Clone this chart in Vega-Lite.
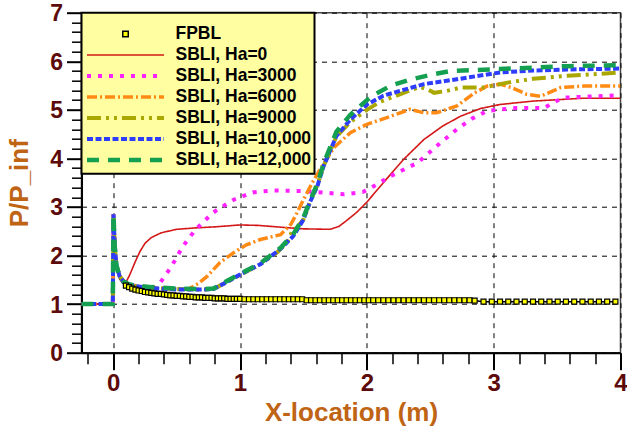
{
"$schema":"https://vega.github.io/schema/vega-lite/v6.json",
"autosize":{"type":"none"},
"width":539,"height":340,
"padding":{"left":81.5,"top":12.7,"right":6.5,"bottom":81.5},
"background":"white",
"config":{"view":{"stroke":"#444","strokeWidth":1.5},"font":"Liberation Sans"},
"datasets":{
"lines":[
{"s":"FPBL","x":-0.25,"y":1},{"s":"FPBL","x":-0.003,"y":1},{"s":"FPBL","x":0.002,"y":2.8},{"s":"FPBL","x":0.012,"y":2.15},{"s":"FPBL","x":0.025,"y":1.75},{"s":"FPBL","x":0.05,"y":1.52},{"s":"FPBL","x":0.075,"y":1.43},
{"s":"FPBL","x":0.1,"y":1.38},{"s":"FPBL","x":0.125,"y":1.35},{"s":"FPBL","x":0.15,"y":1.32},{"s":"FPBL","x":0.175,"y":1.3},{"s":"FPBL","x":0.2,"y":1.28},{"s":"FPBL","x":0.225,"y":1.27},{"s":"FPBL","x":0.25,"y":1.25},{"s":"FPBL","x":0.275,"y":1.24},{"s":"FPBL","x":0.3,"y":1.23},{"s":"FPBL","x":0.325,"y":1.22},{"s":"FPBL","x":0.35,"y":1.21},{"s":"FPBL","x":0.375,"y":1.21},{"s":"FPBL","x":0.4,"y":1.2},{"s":"FPBL","x":0.425,"y":1.19},{"s":"FPBL","x":0.45,"y":1.18},{"s":"FPBL","x":0.475,"y":1.18},{"s":"FPBL","x":0.5,"y":1.17},{"s":"FPBL","x":0.525,"y":1.17},{"s":"FPBL","x":0.55,"y":1.16},{"s":"FPBL","x":0.575,"y":1.16},{"s":"FPBL","x":0.6,"y":1.15},{"s":"FPBL","x":0.625,"y":1.15},{"s":"FPBL","x":0.65,"y":1.14},{"s":"FPBL","x":0.675,"y":1.14},{"s":"FPBL","x":0.7,"y":1.14},{"s":"FPBL","x":0.725,"y":1.13},{"s":"FPBL","x":0.75,"y":1.13},{"s":"FPBL","x":0.775,"y":1.13},{"s":"FPBL","x":0.8,"y":1.12},{"s":"FPBL","x":0.825,"y":1.12},{"s":"FPBL","x":0.85,"y":1.12},{"s":"FPBL","x":0.875,"y":1.12},{"s":"FPBL","x":0.9,"y":1.11},{"s":"FPBL","x":0.925,"y":1.11},{"s":"FPBL","x":0.95,"y":1.11},{"s":"FPBL","x":0.975,"y":1.11},{"s":"FPBL","x":1.0,"y":1.11},
{"s":"FPBL","x":1.035,"y":1.1},{"s":"FPBL","x":1.07,"y":1.1},{"s":"FPBL","x":1.105,"y":1.1},{"s":"FPBL","x":1.14,"y":1.1},{"s":"FPBL","x":1.175,"y":1.1},{"s":"FPBL","x":1.21,"y":1.1},{"s":"FPBL","x":1.245,"y":1.1},{"s":"FPBL","x":1.28,"y":1.1},{"s":"FPBL","x":1.315,"y":1.1},{"s":"FPBL","x":1.35,"y":1.1},{"s":"FPBL","x":1.385,"y":1.1},{"s":"FPBL","x":1.42,"y":1.1},{"s":"FPBL","x":1.455,"y":1.1},{"s":"FPBL","x":1.49,"y":1.1},
{"s":"FPBL","x":1.525,"y":1.08},{"s":"FPBL","x":1.56,"y":1.08},{"s":"FPBL","x":1.595,"y":1.08},{"s":"FPBL","x":1.63,"y":1.08},{"s":"FPBL","x":1.665,"y":1.08},{"s":"FPBL","x":1.7,"y":1.08},{"s":"FPBL","x":1.735,"y":1.08},{"s":"FPBL","x":1.77,"y":1.08},{"s":"FPBL","x":1.805,"y":1.08},{"s":"FPBL","x":1.84,"y":1.08},{"s":"FPBL","x":1.875,"y":1.08},{"s":"FPBL","x":1.91,"y":1.08},{"s":"FPBL","x":1.945,"y":1.08},{"s":"FPBL","x":1.98,"y":1.08},{"s":"FPBL","x":2.015,"y":1.08},{"s":"FPBL","x":2.05,"y":1.08},{"s":"FPBL","x":2.09,"y":1.08},{"s":"FPBL","x":2.13,"y":1.08},{"s":"FPBL","x":2.17,"y":1.08},{"s":"FPBL","x":2.21,"y":1.08},{"s":"FPBL","x":2.25,"y":1.08},{"s":"FPBL","x":2.29,"y":1.08},{"s":"FPBL","x":2.33,"y":1.08},{"s":"FPBL","x":2.37,"y":1.08},{"s":"FPBL","x":2.41,"y":1.08},{"s":"FPBL","x":2.45,"y":1.08},{"s":"FPBL","x":2.49,"y":1.08},{"s":"FPBL","x":2.53,"y":1.08},{"s":"FPBL","x":2.57,"y":1.08},{"s":"FPBL","x":2.61,"y":1.08},{"s":"FPBL","x":2.65,"y":1.08},{"s":"FPBL","x":2.69,"y":1.08},{"s":"FPBL","x":2.73,"y":1.08},{"s":"FPBL","x":2.77,"y":1.08},{"s":"FPBL","x":2.81,"y":1.08},{"s":"FPBL","x":2.85,"y":1.07},
{"s":"FPBL","x":2.92,"y":1.05},{"s":"FPBL","x":2.985,"y":1.05},{"s":"FPBL","x":3.05,"y":1.05},{"s":"FPBL","x":3.115,"y":1.05},{"s":"FPBL","x":3.18,"y":1.05},{"s":"FPBL","x":3.245,"y":1.05},{"s":"FPBL","x":3.31,"y":1.05},{"s":"FPBL","x":3.375,"y":1.05},{"s":"FPBL","x":3.44,"y":1.05},{"s":"FPBL","x":3.505,"y":1.05},{"s":"FPBL","x":3.57,"y":1.05},{"s":"FPBL","x":3.635,"y":1.05},{"s":"FPBL","x":3.7,"y":1.05},{"s":"FPBL","x":3.765,"y":1.05},{"s":"FPBL","x":3.83,"y":1.05},{"s":"FPBL","x":3.895,"y":1.05},{"s":"FPBL","x":3.96,"y":1.05},

{"s":"SBLI, Ha=0","x":-0.25,"y":1},{"s":"SBLI, Ha=0","x":-0.003,"y":1},{"s":"SBLI, Ha=0","x":0.002,"y":2.85},{"s":"SBLI, Ha=0","x":0.012,"y":2.2},{"s":"SBLI, Ha=0","x":0.025,"y":1.8},{"s":"SBLI, Ha=0","x":0.05,"y":1.58},{"s":"SBLI, Ha=0","x":0.08,"y":1.48},{"s":"SBLI, Ha=0","x":0.1,"y":1.45},{"s":"SBLI, Ha=0","x":0.13,"y":1.6},{"s":"SBLI, Ha=0","x":0.17,"y":1.85},{"s":"SBLI, Ha=0","x":0.21,"y":2.08},{"s":"SBLI, Ha=0","x":0.25,"y":2.25},{"s":"SBLI, Ha=0","x":0.3,"y":2.37},{"s":"SBLI, Ha=0","x":0.38,"y":2.47},{"s":"SBLI, Ha=0","x":0.5,"y":2.54},{"s":"SBLI, Ha=0","x":0.65,"y":2.57},{"s":"SBLI, Ha=0","x":0.8,"y":2.59},{"s":"SBLI, Ha=0","x":1.0,"y":2.63},{"s":"SBLI, Ha=0","x":1.15,"y":2.62},{"s":"SBLI, Ha=0","x":1.34,"y":2.58},{"s":"SBLI, Ha=0","x":1.5,"y":2.55},{"s":"SBLI, Ha=0","x":1.71,"y":2.54},{"s":"SBLI, Ha=0","x":1.78,"y":2.6},{"s":"SBLI, Ha=0","x":1.84,"y":2.72},{"s":"SBLI, Ha=0","x":1.92,"y":2.89},{"s":"SBLI, Ha=0","x":2.0,"y":3.1},{"s":"SBLI, Ha=0","x":2.13,"y":3.5},{"s":"SBLI, Ha=0","x":2.29,"y":3.98},{"s":"SBLI, Ha=0","x":2.45,"y":4.39},{"s":"SBLI, Ha=0","x":2.6,"y":4.67},{"s":"SBLI, Ha=0","x":2.74,"y":4.87},{"s":"SBLI, Ha=0","x":2.9,"y":5.03},{"s":"SBLI, Ha=0","x":3.05,"y":5.11},{"s":"SBLI, Ha=0","x":3.31,"y":5.18},{"s":"SBLI, Ha=0","x":3.71,"y":5.24},{"s":"SBLI, Ha=0","x":4.0,"y":5.24},

{"s":"SBLI, Ha=3000","x":-0.25,"y":1},{"s":"SBLI, Ha=3000","x":-0.003,"y":1},{"s":"SBLI, Ha=3000","x":0.002,"y":2.85},{"s":"SBLI, Ha=3000","x":0.012,"y":2.2},{"s":"SBLI, Ha=3000","x":0.025,"y":1.8},{"s":"SBLI, Ha=3000","x":0.05,"y":1.58},{"s":"SBLI, Ha=3000","x":0.08,"y":1.47},{"s":"SBLI, Ha=3000","x":0.12,"y":1.41},{"s":"SBLI, Ha=3000","x":0.18,"y":1.37},{"s":"SBLI, Ha=3000","x":0.26,"y":1.33},{"s":"SBLI, Ha=3000","x":0.32,"y":1.33},{"s":"SBLI, Ha=3000","x":0.37,"y":1.44},{"s":"SBLI, Ha=3000","x":0.46,"y":1.78},{"s":"SBLI, Ha=3000","x":0.55,"y":2.19},{"s":"SBLI, Ha=3000","x":0.65,"y":2.54},{"s":"SBLI, Ha=3000","x":0.79,"y":2.89},{"s":"SBLI, Ha=3000","x":0.95,"y":3.15},{"s":"SBLI, Ha=3000","x":1.1,"y":3.3},{"s":"SBLI, Ha=3000","x":1.26,"y":3.34},{"s":"SBLI, Ha=3000","x":1.48,"y":3.33},{"s":"SBLI, Ha=3000","x":1.69,"y":3.29},{"s":"SBLI, Ha=3000","x":1.82,"y":3.26},{"s":"SBLI, Ha=3000","x":1.97,"y":3.31},{"s":"SBLI, Ha=3000","x":2.07,"y":3.45},{"s":"SBLI, Ha=3000","x":2.19,"y":3.64},{"s":"SBLI, Ha=3000","x":2.4,"y":3.91},{"s":"SBLI, Ha=3000","x":2.58,"y":4.32},{"s":"SBLI, Ha=3000","x":2.71,"y":4.6},{"s":"SBLI, Ha=3000","x":2.83,"y":4.82},{"s":"SBLI, Ha=3000","x":2.95,"y":4.98},{"s":"SBLI, Ha=3000","x":3.18,"y":5.04},{"s":"SBLI, Ha=3000","x":3.4,"y":5.04},{"s":"SBLI, Ha=3000","x":3.47,"y":5.15},{"s":"SBLI, Ha=3000","x":3.55,"y":5.25},{"s":"SBLI, Ha=3000","x":3.71,"y":5.27},{"s":"SBLI, Ha=3000","x":4.0,"y":5.3},

{"s":"SBLI, Ha=6000","x":-0.25,"y":1},{"s":"SBLI, Ha=6000","x":-0.003,"y":1},{"s":"SBLI, Ha=6000","x":0.002,"y":2.85},{"s":"SBLI, Ha=6000","x":0.012,"y":2.2},{"s":"SBLI, Ha=6000","x":0.025,"y":1.8},{"s":"SBLI, Ha=6000","x":0.05,"y":1.58},{"s":"SBLI, Ha=6000","x":0.08,"y":1.47},{"s":"SBLI, Ha=6000","x":0.12,"y":1.41},{"s":"SBLI, Ha=6000","x":0.18,"y":1.37},{"s":"SBLI, Ha=6000","x":0.3,"y":1.33},{"s":"SBLI, Ha=6000","x":0.5,"y":1.31},{"s":"SBLI, Ha=6000","x":0.6,"y":1.32},{"s":"SBLI, Ha=6000","x":0.67,"y":1.42},{"s":"SBLI, Ha=6000","x":0.74,"y":1.57},{"s":"SBLI, Ha=6000","x":0.84,"y":1.85},{"s":"SBLI, Ha=6000","x":0.95,"y":2.06},{"s":"SBLI, Ha=6000","x":1.05,"y":2.22},{"s":"SBLI, Ha=6000","x":1.16,"y":2.33},{"s":"SBLI, Ha=6000","x":1.32,"y":2.43},{"s":"SBLI, Ha=6000","x":1.4,"y":2.64},{"s":"SBLI, Ha=6000","x":1.45,"y":2.88},{"s":"SBLI, Ha=6000","x":1.5,"y":3.15},{"s":"SBLI, Ha=6000","x":1.57,"y":3.5},{"s":"SBLI, Ha=6000","x":1.63,"y":3.77},{"s":"SBLI, Ha=6000","x":1.74,"y":4.22},{"s":"SBLI, Ha=6000","x":1.87,"y":4.53},{"s":"SBLI, Ha=6000","x":2.0,"y":4.7},{"s":"SBLI, Ha=6000","x":2.19,"y":4.87},{"s":"SBLI, Ha=6000","x":2.34,"y":5.01},{"s":"SBLI, Ha=6000","x":2.45,"y":4.94},{"s":"SBLI, Ha=6000","x":2.55,"y":4.94},{"s":"SBLI, Ha=6000","x":2.71,"y":5.08},{"s":"SBLI, Ha=6000","x":2.85,"y":5.35},{"s":"SBLI, Ha=6000","x":2.95,"y":5.49},{"s":"SBLI, Ha=6000","x":3.05,"y":5.53},{"s":"SBLI, Ha=6000","x":3.15,"y":5.45},{"s":"SBLI, Ha=6000","x":3.26,"y":5.32},{"s":"SBLI, Ha=6000","x":3.37,"y":5.28},{"s":"SBLI, Ha=6000","x":3.53,"y":5.46},{"s":"SBLI, Ha=6000","x":3.71,"y":5.49},{"s":"SBLI, Ha=6000","x":4.0,"y":5.49},

{"s":"SBLI, Ha=9000","x":-0.25,"y":1},{"s":"SBLI, Ha=9000","x":-0.003,"y":1},{"s":"SBLI, Ha=9000","x":0.002,"y":2.85},{"s":"SBLI, Ha=9000","x":0.012,"y":2.2},{"s":"SBLI, Ha=9000","x":0.025,"y":1.8},{"s":"SBLI, Ha=9000","x":0.05,"y":1.58},{"s":"SBLI, Ha=9000","x":0.08,"y":1.47},{"s":"SBLI, Ha=9000","x":0.12,"y":1.41},{"s":"SBLI, Ha=9000","x":0.18,"y":1.37},{"s":"SBLI, Ha=9000","x":0.3,"y":1.34},{"s":"SBLI, Ha=9000","x":0.5,"y":1.31},{"s":"SBLI, Ha=9000","x":0.7,"y":1.3},{"s":"SBLI, Ha=9000","x":0.79,"y":1.31},{"s":"SBLI, Ha=9000","x":0.9,"y":1.46},{"s":"SBLI, Ha=9000","x":1.0,"y":1.6},{"s":"SBLI, Ha=9000","x":1.16,"y":1.82},{"s":"SBLI, Ha=9000","x":1.3,"y":2.08},{"s":"SBLI, Ha=9000","x":1.38,"y":2.32},{"s":"SBLI, Ha=9000","x":1.41,"y":2.5},{"s":"SBLI, Ha=9000","x":1.45,"y":2.58},{"s":"SBLI, Ha=9000","x":1.5,"y":2.74},{"s":"SBLI, Ha=9000","x":1.55,"y":3.09},{"s":"SBLI, Ha=9000","x":1.61,"y":3.45},{"s":"SBLI, Ha=9000","x":1.66,"y":3.85},{"s":"SBLI, Ha=9000","x":1.76,"y":4.45},{"s":"SBLI, Ha=9000","x":1.87,"y":4.75},{"s":"SBLI, Ha=9000","x":2.0,"y":5.0},{"s":"SBLI, Ha=9000","x":2.1,"y":5.16},{"s":"SBLI, Ha=9000","x":2.19,"y":5.25},{"s":"SBLI, Ha=9000","x":2.32,"y":5.38},{"s":"SBLI, Ha=9000","x":2.42,"y":5.47},{"s":"SBLI, Ha=9000","x":2.48,"y":5.42},{"s":"SBLI, Ha=9000","x":2.53,"y":5.35},{"s":"SBLI, Ha=9000","x":2.63,"y":5.39},{"s":"SBLI, Ha=9000","x":2.74,"y":5.46},{"s":"SBLI, Ha=9000","x":2.92,"y":5.46},{"s":"SBLI, Ha=9000","x":3.11,"y":5.56},{"s":"SBLI, Ha=9000","x":3.31,"y":5.64},{"s":"SBLI, Ha=9000","x":3.58,"y":5.7},{"s":"SBLI, Ha=9000","x":4.0,"y":5.77},

{"s":"SBLI, Ha=10,000","x":-0.25,"y":1},{"s":"SBLI, Ha=10,000","x":-0.003,"y":1},{"s":"SBLI, Ha=10,000","x":0.002,"y":2.85},{"s":"SBLI, Ha=10,000","x":0.012,"y":2.2},{"s":"SBLI, Ha=10,000","x":0.025,"y":1.8},{"s":"SBLI, Ha=10,000","x":0.05,"y":1.58},{"s":"SBLI, Ha=10,000","x":0.08,"y":1.47},{"s":"SBLI, Ha=10,000","x":0.12,"y":1.41},{"s":"SBLI, Ha=10,000","x":0.18,"y":1.37},{"s":"SBLI, Ha=10,000","x":0.3,"y":1.33},{"s":"SBLI, Ha=10,000","x":0.5,"y":1.3},{"s":"SBLI, Ha=10,000","x":0.7,"y":1.3},{"s":"SBLI, Ha=10,000","x":0.79,"y":1.31},{"s":"SBLI, Ha=10,000","x":0.9,"y":1.46},{"s":"SBLI, Ha=10,000","x":1.0,"y":1.61},{"s":"SBLI, Ha=10,000","x":1.16,"y":1.82},{"s":"SBLI, Ha=10,000","x":1.32,"y":2.14},{"s":"SBLI, Ha=10,000","x":1.42,"y":2.4},{"s":"SBLI, Ha=10,000","x":1.5,"y":2.74},{"s":"SBLI, Ha=10,000","x":1.55,"y":3.09},{"s":"SBLI, Ha=10,000","x":1.61,"y":3.43},{"s":"SBLI, Ha=10,000","x":1.66,"y":3.85},{"s":"SBLI, Ha=10,000","x":1.76,"y":4.46},{"s":"SBLI, Ha=10,000","x":1.87,"y":4.8},{"s":"SBLI, Ha=10,000","x":2.0,"y":5.11},{"s":"SBLI, Ha=10,000","x":2.13,"y":5.29},{"s":"SBLI, Ha=10,000","x":2.26,"y":5.39},{"s":"SBLI, Ha=10,000","x":2.45,"y":5.53},{"s":"SBLI, Ha=10,000","x":2.71,"y":5.63},{"s":"SBLI, Ha=10,000","x":3.05,"y":5.77},{"s":"SBLI, Ha=10,000","x":3.31,"y":5.81},{"s":"SBLI, Ha=10,000","x":3.58,"y":5.83},{"s":"SBLI, Ha=10,000","x":4.0,"y":5.85},

{"s":"SBLI, Ha=12,000","x":-0.25,"y":1},{"s":"SBLI, Ha=12,000","x":-0.003,"y":1},{"s":"SBLI, Ha=12,000","x":0.002,"y":2.85},{"s":"SBLI, Ha=12,000","x":0.012,"y":2.2},{"s":"SBLI, Ha=12,000","x":0.025,"y":1.8},{"s":"SBLI, Ha=12,000","x":0.05,"y":1.58},{"s":"SBLI, Ha=12,000","x":0.08,"y":1.47},{"s":"SBLI, Ha=12,000","x":0.12,"y":1.41},{"s":"SBLI, Ha=12,000","x":0.18,"y":1.38},{"s":"SBLI, Ha=12,000","x":0.3,"y":1.35},{"s":"SBLI, Ha=12,000","x":0.5,"y":1.32},{"s":"SBLI, Ha=12,000","x":0.7,"y":1.31},{"s":"SBLI, Ha=12,000","x":0.79,"y":1.32},{"s":"SBLI, Ha=12,000","x":0.9,"y":1.48},{"s":"SBLI, Ha=12,000","x":1.0,"y":1.62},{"s":"SBLI, Ha=12,000","x":1.16,"y":1.84},{"s":"SBLI, Ha=12,000","x":1.32,"y":2.16},{"s":"SBLI, Ha=12,000","x":1.42,"y":2.44},{"s":"SBLI, Ha=12,000","x":1.5,"y":2.78},{"s":"SBLI, Ha=12,000","x":1.55,"y":3.12},{"s":"SBLI, Ha=12,000","x":1.61,"y":3.48},{"s":"SBLI, Ha=12,000","x":1.66,"y":3.9},{"s":"SBLI, Ha=12,000","x":1.76,"y":4.55},{"s":"SBLI, Ha=12,000","x":1.87,"y":4.9},{"s":"SBLI, Ha=12,000","x":2.0,"y":5.2},{"s":"SBLI, Ha=12,000","x":2.05,"y":5.3},{"s":"SBLI, Ha=12,000","x":2.19,"y":5.5},{"s":"SBLI, Ha=12,000","x":2.34,"y":5.62},{"s":"SBLI, Ha=12,000","x":2.5,"y":5.72},{"s":"SBLI, Ha=12,000","x":2.66,"y":5.8},{"s":"SBLI, Ha=12,000","x":3.05,"y":5.84},{"s":"SBLI, Ha=12,000","x":3.31,"y":5.87},{"s":"SBLI, Ha=12,000","x":3.58,"y":5.9},{"s":"SBLI, Ha=12,000","x":4.0,"y":5.92}
]},
"data":{"name":"lines"},
"encoding":{
 "x":{"field":"x","type":"quantitative","scale":{"domain":[-0.25,4],"nice":false,"zero":false},
  "axis":{"values":[-0.2,0,0.2,0.4,0.6,0.8,1,1.2,1.4,1.6,1.8,2,2.2,2.4,2.6,2.8,3,3.2,3.4,3.6,3.8,4],
   "title":"X-location (m)","titleFont":"Liberation Sans","titleFontSize":26,"titleFontWeight":"bold","titleColor":"#bf6414","titlePadding":4,
   "labelFont":"Liberation Sans","labelFontSize":24,"labelFontWeight":"bold","labelColor":"#5c0a0a","labelPadding":2,
   "labelExpr":"abs(datum.value-round(datum.value))<0.001 ? format(datum.value,'d') : ''",
   "labelOverlap":false,"labelFlush":false,
   "domainColor":"#000","domainWidth":2,"tickColor":"#000",
   "tickSize":{"condition":{"test":"abs(datum.value-round(datum.value))<0.001","value":17},"value":11},
   "tickWidth":{"condition":{"test":"abs(datum.value-round(datum.value))<0.001","value":2},"value":1.5},
   "grid":true,"gridColor":"#000","gridDash":[5,5],"gridWidth":1,
   "gridOpacity":{"condition":{"test":"abs(datum.value-round(datum.value))<0.001","value":1},"value":0}}},
 "y":{"field":"y","type":"quantitative","scale":{"domain":[0,7],"nice":false},
  "axis":{"values":[0,0.2,0.4,0.6,0.8,1,1.2,1.4,1.6,1.8,2,2.2,2.4,2.6,2.8,3,3.2,3.4,3.6,3.8,4,4.2,4.4,4.6,4.8,5,5.2,5.4,5.6,5.8,6,6.2,6.4,6.6,6.8,7],
   "title":"P/P_inf","titleFont":"Liberation Sans","titleFontSize":26,"titleFontWeight":"bold","titleColor":"#bf6414","titlePadding":17,
   "labelFont":"Liberation Sans","labelFontSize":23,"labelFontWeight":"bold","labelColor":"#5c0a0a","labelPadding":4,"labelOffset":1,
   "labelExpr":"abs(datum.value-round(datum.value))<0.001 ? format(datum.value,'d') : ''",
   "labelOverlap":false,"labelFlush":false,
   "domainColor":"#000","domainWidth":2,"tickColor":"#000",
   "tickSize":{"condition":{"test":"abs(datum.value-round(datum.value))<0.001","value":15},"value":10},
   "tickWidth":{"condition":{"test":"abs(datum.value-round(datum.value))<0.001","value":2},"value":1.5},
   "grid":true,"gridColor":"#000","gridDash":[5,5],"gridWidth":1,
   "gridOpacity":{"condition":{"test":"abs(datum.value-round(datum.value))<0.001","value":1},"value":0}}}
},
"layer":[
 {"mark":{"type":"line","clip":true},
  "encoding":{
   "color":{"field":"s","type":"nominal",
     "scale":{"domain":["FPBL","SBLI, Ha=0","SBLI, Ha=3000","SBLI, Ha=6000","SBLI, Ha=9000","SBLI, Ha=10,000","SBLI, Ha=12,000"],
              "range":["#000000","#d41818","#ff22ff","#ff8a14","#aaa800","#2e3cff","#14a050"]},
     "legend":{"orient":"top-left","offset":0,"title":" ","titleFontSize":7,"titlePadding":1,"fillColor":"#ffffa2","strokeColor":"#000","padding":3,
       "labelFont":"Liberation Sans","labelFontSize":17.5,"labelFontWeight":"bold","labelColor":"#000","labelOffset":9,"labelLimit":0,
       "symbolType":"stroke","symbolSize":5929,"clipHeight":20.5,"rowPadding":0,
       "encode":{"legend":{"update":{"strokeWidth":{"value":2}}},
         "symbols":{"update":{
           "shape":{"signal":"datum.value === 'FPBL' ? 'square' : 'stroke'"},
           "size":{"signal":"datum.value === 'FPBL' ? 30 : 5929"},
           "fill":{"signal":"datum.value === 'FPBL' ? '#ffff00' : 'transparent'"}}}}}},
   "strokeDash":{"field":"s","type":"nominal",
     "scale":{"domain":["FPBL","SBLI, Ha=0","SBLI, Ha=3000","SBLI, Ha=6000","SBLI, Ha=9000","SBLI, Ha=10,000","SBLI, Ha=12,000"],
              "range":[[1,0],[1,0],[4,7],[10,3,2,3],[14,5,3,5,3,5],[6,2.5],[12,9]]}},
   "strokeWidth":{"field":"s","type":"nominal",
     "scale":{"type":"ordinal","domain":["FPBL","SBLI, Ha=0","SBLI, Ha=3000","SBLI, Ha=6000","SBLI, Ha=9000","SBLI, Ha=10,000","SBLI, Ha=12,000"],
              "range":[1.5,1.6,4,3.5,4,4,4.5]}}
  }},
 {"transform":[{"filter":"datum.s === 'FPBL' && datum.x >= 0.1"}],
  "mark":{"type":"point","shape":"square","filled":true,"fill":"#ffff00","stroke":"#000","strokeWidth":1.2,"size":25,"opacity":1}}
]
}
